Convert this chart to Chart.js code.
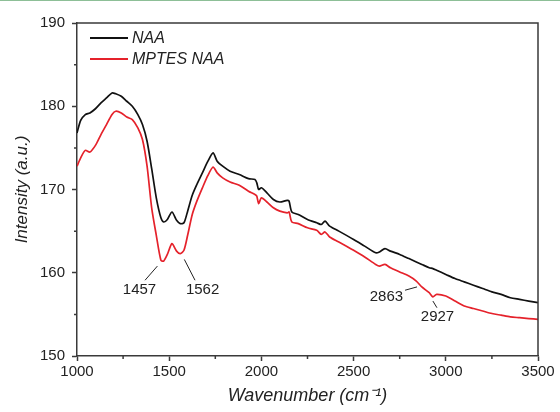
<!DOCTYPE html>
<html>
<head>
<meta charset="utf-8">
<script src="https://cdn.jsdelivr.net/npm/chart.js@4.4.1/dist/chart.umd.min.js"></script>
<style>
html, body { margin: 0; padding: 0; background: #fff; }
#wrap { position: relative; width: 560px; height: 412px; }
#edge { position: absolute; left: 0; top: 0; width: 560px; height: 1px; background: #8dbf97; }
</style>
</head>
<body>
<div id="wrap">
  <canvas id="ftirCanvas" width="560" height="412"></canvas>
  <div id="edge"></div>
</div>
<script>
// FTIR spectra, wavenumber in cm-1
var wavenumber = [1000, 1020, 1045, 1070, 1100, 1130, 1160, 1190, 1210, 1240, 1270, 1300, 1330, 1355, 1380, 1405, 1430, 1455, 1470, 1490,
  1515, 1540, 1560, 1580, 1600, 1625, 1650, 1680, 1710, 1738, 1760, 1790, 1830, 1880, 1930, 1965, 1975, 1985, 2000, 2030,
  2065, 2100, 2140, 2150, 2165, 2200, 2250, 2300, 2325, 2345, 2370, 2420, 2500, 2560, 2620, 2640, 2670, 2700, 2750, 2800,
  2840, 2870, 2910, 2930, 2950, 3000, 3050, 3100, 3150, 3200, 3250, 3300, 3350, 3400, 3450, 3500];
var naa = [176.8, 178.3, 179.0, 179.2, 179.7, 180.4, 181.0, 181.6, 181.5, 181.2, 180.6, 180.0, 179.0, 177.8, 175.8, 172.5, 169.0, 166.6, 166.1, 166.4,
  167.3, 166.3, 165.9, 166.0, 167.4, 169.3, 170.6, 172.0, 173.4, 174.4, 173.4, 172.8, 172.2, 171.8, 171.3, 171.2, 170.8, 170.0, 170.2, 169.6,
  168.8, 168.5, 168.7, 168.6, 167.3, 167.0, 166.4, 166.0, 165.8, 166.2, 165.6, 165.0, 164.0, 163.2, 162.4, 162.5, 162.9, 162.6, 162.2, 161.7,
  161.3, 161.0, 160.6, 160.5, 160.3, 159.8, 159.3, 158.9, 158.5, 158.1, 157.7, 157.4, 157.0, 156.8, 156.6, 156.4];
var mptesNaa = [172.8, 173.8, 174.7, 174.5, 175.3, 176.6, 177.8, 179.0, 179.4, 179.2, 178.7, 178.4, 177.4, 176.0, 172.8, 167.8, 164.5, 161.5, 161.4, 162.2,
  163.5, 162.6, 162.3, 162.7, 164.5, 167.0, 168.6, 170.2, 171.7, 172.7, 172.0, 171.4, 170.9, 170.5, 169.8, 169.4, 169.2, 168.3, 169.0, 168.5,
  167.8, 167.4, 167.2, 167.3, 166.1, 165.9, 165.4, 165.1, 164.6, 164.9, 164.3, 163.7, 162.7, 161.9, 161.0, 160.8, 161.0, 160.6, 160.1, 159.6,
  159.0, 158.3, 157.6, 157.1, 157.4, 157.2, 156.6, 156.0, 155.7, 155.4, 155.1, 154.9, 154.7, 154.6, 154.5, 154.4];
var seriesNames = ["NAA", "MPTES NAA"];
var xTicks = [1000, 1500, 2000, 2500, 3000, 3500];
var yTicks = [150, 160, 170, 180, 190];

// peak labels and their leader lines (data units)
var peakLabels = ["1457", "1562", "2863", "2927"];
var peakTextX = [1339, 1681, 2678, 2955];
var peakTextY = [157.9, 157.9, 157.15, 154.75];
var leaderX1 = [1369, 1582, 2779, 2930];
var leaderY1 = [159.1, 161.6, 157.9, 156.6];
var leaderX2 = [1436, 1640, 2844, 2952];
var leaderY2 = [160.8, 159.1, 158.3, 155.8];

var axisColor = "#3a3a3a";
var textColor = "#222";
var fontFam = "'Liberation Sans', Arial, sans-serif";

function toPoints(xs, ys) {
  var pts = [];
  for (var i = 0; i < xs.length; i++) pts.push({x: xs[i], y: ys[i]});
  return pts;
}

var framePlugin = {
  id: "frame",
  afterDraw: function(chart) {
    var ctx = chart.ctx, a = chart.chartArea;
    var xs = chart.scales.x, ys = chart.scales.y;
    ctx.save();
    ctx.strokeStyle = axisColor;
    ctx.lineWidth = 1.5;
    ctx.beginPath();
    ctx.moveTo(a.left, a.top);
    ctx.lineTo(a.right, a.top);
    ctx.lineTo(a.right, a.bottom);
    // minor ticks
    for (var i = 0; i < xTicks.length - 1; i++) {
      var px = xs.getPixelForValue((xTicks[i] + xTicks[i + 1]) / 2);
      ctx.moveTo(px, a.bottom);
      ctx.lineTo(px, a.bottom + 3);
    }
    for (var j = 0; j < yTicks.length - 1; j++) {
      var py = ys.getPixelForValue((yTicks[j] + yTicks[j + 1]) / 2);
      ctx.moveTo(a.left, py);
      ctx.lineTo(a.left - 3, py);
    }
    ctx.stroke();

    // peak annotations
    ctx.lineWidth = 1;
    ctx.strokeStyle = "#222";
    ctx.fillStyle = textColor;
    ctx.font = "15px " + fontFam;
    ctx.textAlign = "center";
    ctx.textBaseline = "middle";
    for (var k = 0; k < peakLabels.length; k++) {
      ctx.beginPath();
      ctx.moveTo(xs.getPixelForValue(leaderX1[k]), ys.getPixelForValue(leaderY1[k]));
      ctx.lineTo(xs.getPixelForValue(leaderX2[k]), ys.getPixelForValue(leaderY2[k]));
      ctx.stroke();
      ctx.fillText(peakLabels[k], xs.getPixelForValue(peakTextX[k]), ys.getPixelForValue(peakTextY[k]));
    }

    // legend
    ctx.font = "italic 16px " + fontFam;
    ctx.textAlign = "left";
    chart.data.datasets.forEach(function(ds, n) {
      var y = a.top + 15 + n * 21;
      ctx.strokeStyle = ds.borderColor;
      ctx.lineWidth = 2;
      ctx.beginPath();
      ctx.moveTo(a.left + 13, y);
      ctx.lineTo(a.left + 51, y);
      ctx.stroke();
      ctx.fillStyle = textColor;
      ctx.fillText(ds.label, a.left + 55, y + 1);
    });
    ctx.restore();
  }
};

function plainTick(value) { return String(value); }

var ctx = document.getElementById("ftirCanvas").getContext("2d");
var chart = new Chart(ctx, {
  type: "line",
  data: {
    datasets: [{
      label: seriesNames[0],
      data: toPoints(wavenumber, naa),
      borderColor: "#111111",
      borderWidth: 1.7,
      pointRadius: 0,
      tension: 0.25
    }, {
      label: seriesNames[1],
      data: toPoints(wavenumber, mptesNaa),
      borderColor: "#e5222b",
      borderWidth: 1.7,
      pointRadius: 0,
      tension: 0.25
    }]
  },
  options: {
    responsive: false,
    animation: false,
    layout: {padding: {top: 23, right: 22, left: 0, bottom: 0}},
    plugins: {legend: {display: false}, tooltip: {enabled: false}},
    scales: {
      x: {
        type: "linear",
        min: 1000,
        max: 3500,
        afterBuildTicks: function(scale) { scale.ticks = xTicks.map(function(v) { return {value: v}; }); },
        afterFit: function(scale) { scale.height = 56; },
        grid: {drawOnChartArea: false, drawTicks: true, tickLength: 5, color: axisColor, tickWidth: 1.5},
        border: {display: true, color: axisColor, width: 1.5},
        ticks: {padding: 2, color: textColor, font: {family: fontFam, size: 15}, maxRotation: 0, callback: plainTick},
        title: {display: true, text: "Wavenumber (cm\u207B\u00B9)", color: textColor,
          font: {family: fontFam, size: 18, style: "italic"}, padding: {top: 0, bottom: 5}}
      },
      y: {
        min: 150,
        max: 190,
        afterBuildTicks: function(scale) { scale.ticks = yTicks.map(function(v) { return {value: v}; }); },
        afterFit: function(scale) { scale.width = 77; },
        grid: {drawOnChartArea: false, drawTicks: true, tickLength: 5, color: axisColor, tickWidth: 1.5},
        border: {display: true, color: axisColor, width: 1.5},
        ticks: {padding: 7, color: textColor, font: {family: fontFam, size: 15}, callback: plainTick},
        title: {display: true, text: "Intensity (a.u.)", color: textColor,
          font: {family: fontFam, size: 17, style: "italic"}, padding: {top: 12, bottom: 0}}
      }
    }
  },
  plugins: [framePlugin]
});
</script>
</body>
</html>
